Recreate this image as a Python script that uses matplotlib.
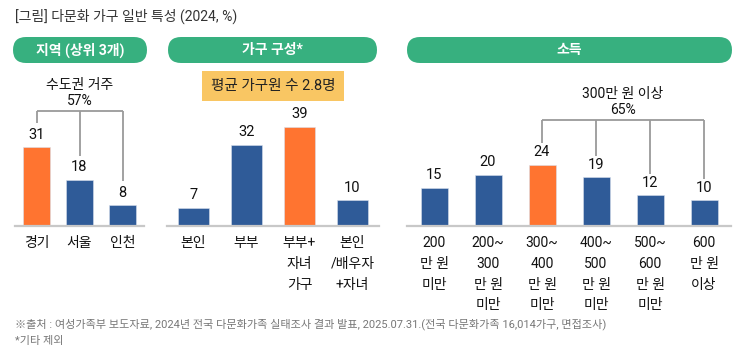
import matplotlib.pyplot as plt
from matplotlib.patches import FancyBboxPatch, Rectangle

plt.rcParams["font.family"] = ["Roboto", "Noto Sans CJK KR", "DejaVu Sans"]

BLUE = "#2F5B98"
ORANGE = "#FF7430"
GREEN = "#37B07F"
YELLOW = "#F9C663"
AXIS_GRAY = "#C8C8C8"
BRACKET_GRAY = "#9A9A9A"

TITLE = "[그림] 다문화 가구 일반 특성 (2024, %)"

region_labels = ["경기", "서울", "인천"]
region_values = [31, 18, 8]
region_highlight = 0

household_labels = ["본인", "부부", "부부+\n자녀\n가구", "본인\n/배우자\n+자녀"]
household_values = [7, 32, 39, 10]
household_highlight = 2

income_labels = [
    "200\n만 원\n미만",
    "200~\n300\n만 원\n미만",
    "300~\n400\n만 원\n미만",
    "400~\n500\n만 원\n미만",
    "500~\n600\n만 원\n미만",
    "600\n만 원\n이상",
]
income_values = [15, 20, 24, 19, 12, 10]
income_highlight = 2

FOOTNOTES = [
    "※출처 : 여성가족부 보도자료, 2024년 전국 다문화가족 실태조사 결과 발표, 2025.07.31.(전국 다문화가족 16,014가구, 면접조사)",
    "*기타 제외",
]

W, H = 740, 355
PX_PER_UNIT = 2.53
BASELINE = 225.5
YMAX = 60


def px_axes(fig, left, width):
    height = YMAX * PX_PER_UNIT
    return fig.add_axes([left / W, (H - BASELINE) / H, width / W, height / H])


def draw_panel(ax, labels, values, highlight, bar_width):
    xs = list(range(len(values)))
    colors = [ORANGE if i == highlight else BLUE for i in xs]
    ax.bar(xs, values, width=bar_width, color=colors, edgecolor="#D8E0EC",
           linewidth=0.4, zorder=2)
    for x, v in zip(xs, values):
        ax.annotate(str(v), (x, v), xytext=(0, 4), textcoords="offset points",
                    ha="center", va="bottom", fontsize=10.5, color="#111")
    ax.set_xlim(-0.5, len(values) - 0.5)
    ax.set_ylim(0, YMAX)
    ax.set_xticks(xs)
    ax.set_xticklabels(labels, fontsize=10, color="#111", linespacing=1.62)
    ax.tick_params(axis="x", length=0, pad=7.5)
    ax.set_yticks([])
    for side in ["top", "left", "right"]:
        ax.spines[side].set_visible(False)
    ax.spines["bottom"].set_color(AXIS_GRAY)
    ax.spines["bottom"].set_linewidth(1.6)
    ax.patch.set_alpha(0)


def draw_bracket(ax, idx, values, level, text, gap=9.5):
    x0, x1 = idx[0], idx[-1]
    ax.plot([x0, x1], [level, level], color=BRACKET_GRAY, lw=1.3,
            clip_on=False, solid_capstyle="butt")
    for i in idx:
        ax.plot([i, i], [level, values[i] + gap], color=BRACKET_GRAY, lw=1.3,
                clip_on=False, solid_capstyle="butt")
    ax.annotate(text, ((x0 + x1) / 2, level), xytext=(0, 1.8),
                textcoords="offset points", ha="center", va="bottom",
                fontsize=10, color="#111", linespacing=1.2)


def pill(fig, x0, x1, y0, y1, text):
    r = (y1 - y0) / 2 / 100
    box = FancyBboxPatch((x0 / 100, (H - y1) / 100), (x1 - x0) / 100,
                         (y1 - y0) / 100,
                         boxstyle=f"round,pad=0,rounding_size={r}",
                         transform=fig.dpi_scale_trans, facecolor=GREEN,
                         edgecolor="none")
    fig.patches.append(box)
    fig.text((x0 + x1) / 2 / W, 1 - (y0 + y1) / 2 / H, text, ha="center",
             va="center", color="white", fontsize=10, fontweight="bold")


def main():
    fig = plt.figure(figsize=(W / 100, H / 100), dpi=100)
    fig.patch.set_facecolor("white")

    fig.text(15 / W, 1 - 16 / H, TITLE, ha="left", va="center", fontsize=10,
             color="#333")

    pill(fig, 13, 147, 37, 63, "지역 (상위 3개)")
    pill(fig, 168, 377, 37, 63, "가구 구성*")
    pill(fig, 407, 732, 37, 63, "소득")

    ax1 = px_axes(fig, 15, 129)
    draw_panel(ax1, region_labels, region_values, region_highlight, 0.65)
    draw_bracket(ax1, [0, 1, 2], region_values, 45.3, "수도권 거주\n57%")

    ax2 = px_axes(fig, 167, 212)
    draw_panel(ax2, household_labels, household_values, household_highlight, 0.59)

    ax3 = px_axes(fig, 407, 324)
    draw_panel(ax3, income_labels, income_values, income_highlight, 0.5)
    draw_bracket(ax3, [2, 3, 4, 5], income_values, 41.7, "300만 원 이상\n65%",
                 gap=8.5)

    fig.patches.append(Rectangle((202 / 100, (H - 101) / 100), 142 / 100,
                                 30 / 100, transform=fig.dpi_scale_trans,
                                 facecolor=YELLOW, edgecolor="none"))
    fig.text(273 / W, 1 - 86 / H, "평균 가구원 수 2.8명", ha="center",
             va="center", fontsize=10.5, color="#222")

    fig.text(15 / W, 1 - 324 / H, FOOTNOTES[0], ha="left", va="center",
             fontsize=8, color="#777")
    fig.text(15 / W, 1 - 341 / H, FOOTNOTES[1], ha="left", va="center",
             fontsize=8, color="#777")

    fig.savefig("out.png", dpi=100)
    plt.close(fig)


if __name__ == "__main__":
    main()
